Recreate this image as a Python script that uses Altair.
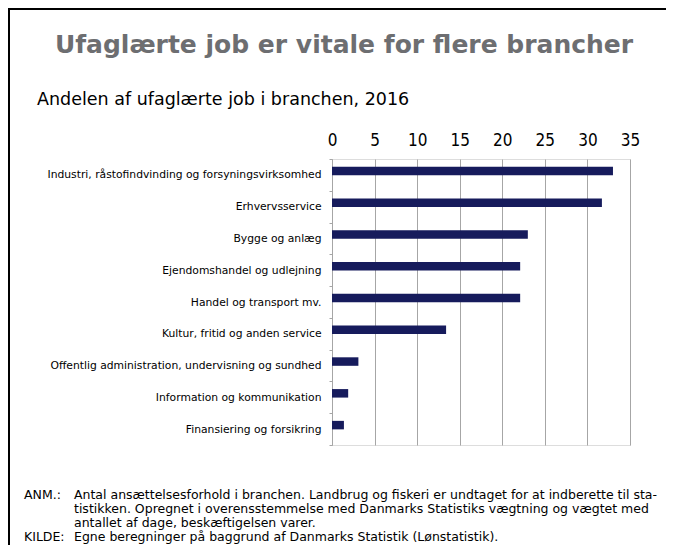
import altair as alt
import pandas as pd

categories = [
    "Industri, råstofindvinding og forsyningsvirksomhed",
    "Erhvervsservice",
    "Bygge og anlæg",
    "Ejendomshandel og udlejning",
    "Handel og transport mv.",
    "Kultur, fritid og anden service",
    "Offentlig administration, undervisning og sundhed",
    "Information og kommunikation",
    "Finansiering og forsikring",
]
values = [33.0, 31.7, 23.0, 22.1, 22.1, 13.4, 3.1, 1.9, 1.4]
x_ticks = [0, 5, 10, 15, 20, 25, 30, 35]

title_text = "Ufaglærte job er vitale for flere brancher"
subtitle_text = "Andelen af ufaglærte job i branchen, 2016"
note_lines = [
    ("ANM.:", "Antal ansættelsesforhold i branchen. Landbrug og fiskeri er undtaget for at indberette til sta-"),
    ("", "tistikken. Opregnet i overensstemmelse med Danmarks Statistiks vægtning og vægtet med"),
    ("", "antallet af dage, beskæftigelsen varer."),
    ("KILDE:", "Egne beregninger på baggrund af Danmarks Statistik (Lønstatistik)."),
]

df = pd.DataFrame({"branche": categories, "andel": values})

W, H = 298, 286
FONT = "DejaVu Sans"
FONT_C = "DejaVu Sans Condensed"

bars = alt.Chart(df).mark_bar(height=8.5, yOffset=-4, color="#161b5c").encode(
    x=alt.X(
        "andel:Q",
        scale=alt.Scale(domain=[0, 35], nice=False, zero=True),
        axis=alt.Axis(
            orient="top", values=x_ticks, title=None, ticks=False, domain=False,
            labelFontSize=17, labelFont=FONT_C, labelColor="#000000", labelPadding=10,
            grid=True, gridColor="#a6a6a6", gridWidth=1, labelFlush=False,
        ),
    ),
    y=alt.Y(
        "branche:N", sort=categories,
        scale=alt.Scale(paddingInner=0, paddingOuter=0),
        axis=alt.Axis(
            title=None, tickBand="extent", tickSize=3, tickColor="#a6a6a6",
            domainColor="#a6a6a6", labelFontSize=10.75, labelFont=FONT,
            labelColor="#000000", labelPadding=8, labelLimit=400, grid=False,
        ),
    ),
)

def txt(s, x, y, size, align="left", weight="normal", color="#000000", font=FONT):
    return alt.Chart(pd.DataFrame({"t": [s]})).mark_text(
        align=align, baseline="middle", fontSize=size, fontWeight=weight,
        color=color, font=font,
    ).encode(text="t:N", x=alt.value(x), y=alt.value(y))

layers = [bars]
layers.append(txt(title_text, 12, -114, 25, align="center", weight="bold", color="#6d6e71"))
layers.append(txt(subtitle_text, -295, -59, 17.5))
ys = [336, 350, 364, 378]
for (lab, line), y in zip(note_lines, ys):
    if lab:
        layers.append(txt(lab, -308, y, 12.5))
    layers.append(txt(line, -258, y, 12.5))

frame_v = alt.Chart(pd.DataFrame({"a": [0]})).mark_rule(color="#000000", strokeWidth=2).encode(
    x=alt.value(-323), y=alt.value(-150), y2=alt.value(H + 100)
)
frame_h = alt.Chart(pd.DataFrame({"a": [0]})).mark_rule(color="#000000", strokeWidth=2).encode(
    x=alt.value(-324), x2=alt.value(W + 36), y=alt.value(-150)
)
layers += [frame_v, frame_h]

chart = alt.layer(*layers).properties(
    width=W, height=H,
    autosize=alt.AutoSizeParams(type="none"),
    padding={"left": 324, "top": 151, "right": 36, "bottom": 100},
).configure_view(stroke=None).configure(background="#ffffff")

chart.save("out.html", embed_options={"renderer": "svg", "actions": False})
